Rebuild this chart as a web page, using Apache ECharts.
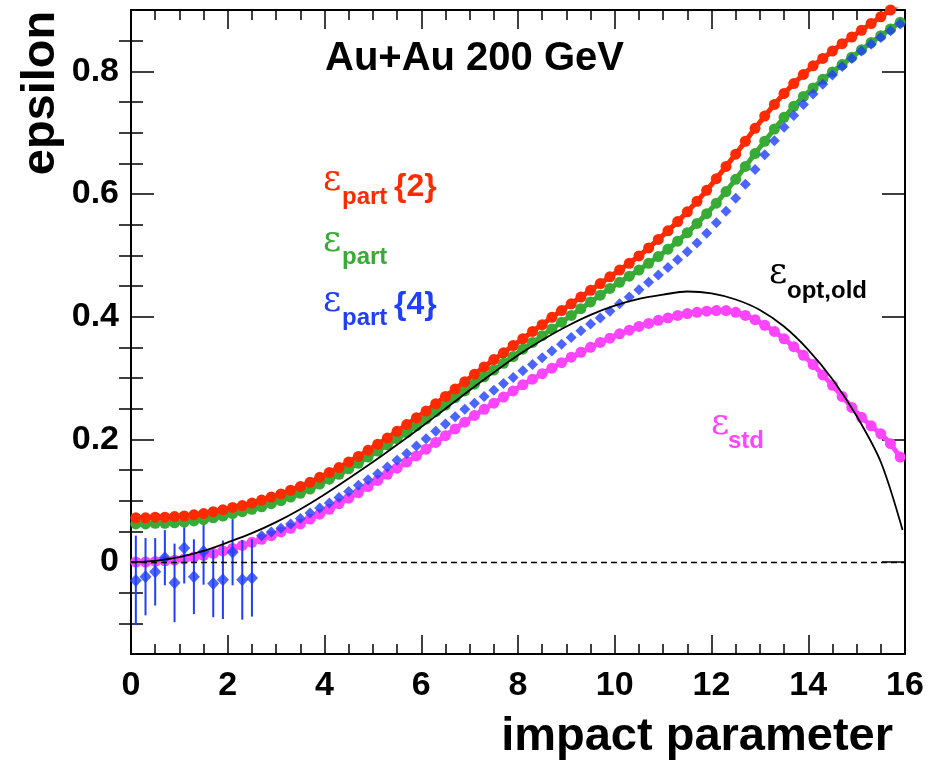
<!DOCTYPE html>
<html><head><meta charset="utf-8">
<script src="https://cdn.jsdelivr.net/npm/echarts@6/dist/echarts.min.js"></script>
<style>html,body{margin:0;padding:0;background:#fff}#c{width:928px;height:764px}</style>
</head><body><div id="c"></div>
<script>
// impact parameter bin centres
const impactB = [0.1,0.3,0.5,0.7,0.9,1.1,1.3,1.5,1.7,1.9,2.1,2.3,2.5,2.7,2.9,3.1,3.3,3.5,3.7,3.9,
  4.1,4.3,4.5,4.7,4.9,5.1,5.3,5.5,5.7,5.9,6.1,6.3,6.5,6.7,6.9,7.1,7.3,7.5,7.7,7.9,
  8.1,8.3,8.5,8.7,8.9,9.1,9.3,9.5,9.7,9.9,10.1,10.3,10.5,10.7,10.9,11.1,11.3,11.5,11.7,11.9,
  12.1,12.3,12.5,12.7,12.9,13.1,13.3,13.5,13.7,13.9,14.1,14.3,14.5,14.7,14.9,15.1,15.3,15.5,15.7,15.9];

// eps_part{2} (red)
const epsPart2 = [0.072,0.072,0.073,0.073,0.074,0.075,0.077,0.079,0.082,0.085,
  0.089,0.092,0.096,0.101,0.106,0.111,0.117,0.123,0.130,0.138,
  0.146,0.154,0.163,0.172,0.182,0.192,0.202,0.213,0.224,0.235,
  0.246,0.258,0.270,0.282,0.294,0.306,0.318,0.330,0.341,0.353,
  0.364,0.376,0.387,0.399,0.410,0.421,0.432,0.443,0.454,0.465,
  0.476,0.487,0.499,0.512,0.526,0.540,0.555,0.571,0.588,0.606,
  0.625,0.645,0.665,0.686,0.707,0.727,0.746,0.764,0.780,0.795,
  0.809,0.821,0.833,0.845,0.856,0.867,0.878,0.889,0.900,0.911];

// eps_part (green)
const epsPart = [0.062,0.062,0.063,0.063,0.064,0.065,0.067,0.069,0.072,0.075,
  0.079,0.082,0.086,0.090,0.095,0.100,0.106,0.112,0.119,0.127,
  0.135,0.143,0.152,0.161,0.171,0.181,0.191,0.201,0.211,0.222,
  0.233,0.245,0.256,0.268,0.279,0.290,0.302,0.313,0.324,0.335,
  0.347,0.358,0.369,0.380,0.391,0.402,0.413,0.424,0.435,0.446,
  0.456,0.466,0.476,0.487,0.498,0.510,0.523,0.537,0.552,0.568,
  0.585,0.604,0.624,0.645,0.666,0.686,0.706,0.725,0.743,0.759,
  0.773,0.787,0.799,0.811,0.823,0.835,0.847,0.858,0.869,0.880];

// eps_part{4} (blue)
const epsPart4 = [-0.030,-0.024,-0.016,0.007,-0.034,0.023,-0.024,0.017,-0.035,-0.029,
  0.016,-0.029,-0.026,0.043,0.049,0.055,0.062,0.071,0.080,0.088,
  0.096,0.105,0.115,0.125,0.134,0.144,0.155,0.166,0.177,0.189,
  0.201,0.213,0.225,0.237,0.249,0.259,0.270,0.280,0.291,0.301,
  0.312,0.322,0.333,0.344,0.355,0.366,0.377,0.388,0.398,0.409,
  0.421,0.432,0.444,0.456,0.468,0.480,0.493,0.506,0.520,0.536,
  0.553,0.572,0.593,0.616,0.640,0.664,0.687,0.709,0.728,0.746,
  0.763,0.779,0.794,0.808,0.821,0.833,0.844,0.855,0.866,0.877];
// errors of the first eps_part{4} points
const epsPart4Err = [0.073,0.063,0.055,0.045,0.064,0.058,0.061,0.054,0.055,0.064,0.054,0.065,0.063];

// eps_std (magenta)
const epsStd = [0.000,0.000,0.001,0.002,0.003,0.005,0.008,0.011,0.014,0.018,
  0.022,0.027,0.032,0.037,0.043,0.049,0.055,0.062,0.070,0.078,
  0.086,0.095,0.104,0.113,0.123,0.133,0.143,0.153,0.163,0.173,
  0.184,0.195,0.206,0.217,0.228,0.239,0.249,0.259,0.269,0.279,
  0.289,0.298,0.307,0.316,0.325,0.334,0.342,0.350,0.358,0.365,
  0.372,0.378,0.384,0.389,0.394,0.398,0.402,0.405,0.407,0.409,
  0.410,0.410,0.407,0.402,0.395,0.386,0.376,0.364,0.351,0.337,
  0.322,0.305,0.288,0.270,0.252,0.236,0.222,0.209,0.193,0.171];

// eps_opt,old (black curve)
const optB = [0,0.5,1,1.5,2,2.5,3,3.5,4,4.5,5,5.5,6,6.5,7,7.5,8,8.5,9,9.5,10,10.5,11,11.5,12,12.5,13,13.5,14,14.5,15,15.5,15.95];
const epsOptOld = [0,0.002,0.008,0.018,0.032,0.047,0.065,0.086,0.110,0.136,0.163,0.191,0.220,0.250,0.280,0.309,0.337,0.362,0.384,0.403,0.418,0.429,0.436,0.441,0.438,0.428,0.411,0.384,0.346,0.298,0.238,0.163,0.052];

const yMajor = [0,0.2,0.4,0.6,0.8];
const yMinor = [-0.1,-0.05,0.05,0.1,0.15,0.25,0.3,0.35,0.45,0.5,0.55,0.65,0.7,0.75,0.85];

const RED='#ff2a00', GREEN='#38aa36', BLUE='#1f3fff', MAG='#ff44ff';
const SANS='"Liberation Sans", Arial, sans-serif';
const SERIF='"DejaVu Serif", "Liberation Serif", serif';

const zip = (xs, ys) => ys.map((v,i)=>[xs[i], v]);
const errData = epsPart4Err.map((e,i)=>[impactB[i], epsPart4[i], e]);

const chart = echarts.init(document.getElementById('c'), null, {renderer:'canvas'});

const baseX = {type:'value', min:0, max:16, interval:2,
  axisLine:{show:true, onZero:false, lineStyle:{color:'#000', width:2}},
  axisTick:{show:true, inside:true, length:19, lineStyle:{color:'#000', width:1.5}},
  minorTick:{show:true, splitNumber:4, length:10, lineStyle:{color:'#000', width:1.5}},
  splitLine:{show:false}, minorSplitLine:{show:false}};
const baseY = {type:'value', min:-0.15, max:0.9,
  axisLine:{show:true, onZero:false, lineStyle:{color:'#000', width:2}},
  splitLine:{show:false}};

const dotLine = (name, data, color, z) => ({name, type:'line', data, showSymbol:true, symbol:'circle', symbolSize:11,
  itemStyle:{color}, lineStyle:{color, width:5}, silent:true, z, clip:true});

const option = {
  animation:false,
  backgroundColor:'#fff',
  grid:{left:131, right:23, top:10, bottom:110, containLabel:false},
  xAxis:[
    Object.assign({}, baseX, {position:'bottom',
      axisLabel:{show:true, margin:15, fontSize:34, fontWeight:'bold', fontFamily:SANS, color:'#000', showMinLabel:true, showMaxLabel:true}}),
    Object.assign({}, baseX, {position:'top', axisLabel:{show:false}})
  ],
  yAxis:[
    Object.assign({}, baseY, {position:'left',
      axisTick:{show:true, inside:true, length:23, customValues:yMajor, lineStyle:{color:'#000', width:1.5}},
      axisLabel:{show:true, margin:12, fontSize:34, fontWeight:'bold', fontFamily:SANS, color:'#000', customValues:yMajor,
        formatter:v => (Math.abs(v)<1e-9 ? '0' : v.toFixed(1))}}),
    Object.assign({}, baseY, {position:'left', axisLine:{show:false},
      axisTick:{show:true, inside:true, length:12, customValues:yMinor, lineStyle:{color:'#000', width:1.5}},
      axisLabel:{show:false}}),
    Object.assign({}, baseY, {position:'right',
      axisTick:{show:true, inside:true, length:23, customValues:yMajor, lineStyle:{color:'#000', width:1.5}},
      axisLabel:{show:false}}),
    Object.assign({}, baseY, {position:'right', axisLine:{show:false},
      axisTick:{show:true, inside:true, length:12, customValues:yMinor, lineStyle:{color:'#000', width:1.5}},
      axisLabel:{show:false}})
  ],
  series:[
    Object.assign(dotLine('eps_std', zip(impactB, epsStd), MAG, 2), {
      markLine:{silent:true, symbol:'none', label:{show:false}, animation:false,
        lineStyle:{color:'#000', type:[6,4], width:1.3}, data:[{yAxis:0}]}}),
    {name:'eps_part{4}', type:'scatter', data:zip(impactB, epsPart4), symbol:'diamond',
      symbolSize:(v, p) => (p.dataIndex < epsPart4Err.length ? [12,13] : [11,11]),
      itemStyle:{color:BLUE}, silent:true, z:4},
    dotLine('eps_part', zip(impactB, epsPart), GREEN, 3),
    dotLine('eps_part{2}', zip(impactB, epsPart2), RED, 3),
    {name:'eps_opt,old', type:'line', data:zip(optB, epsOptOld), smooth:0.3, showSymbol:false, symbol:'none',
      lineStyle:{color:'#000', width:1.8}, silent:true, z:5},
    {name:'err', type:'custom', data:errData, encode:{x:0, y:1}, silent:true, z:3, clip:true,
      renderItem:function(params, api){
        const x=api.value(0), y=api.value(1), e=api.value(2);
        const p1=api.coord([x, y-e]), p2=api.coord([x, y+e]);
        return {type:'line', shape:{x1:p1[0], y1:p1[1], x2:p2[0], y2:p2[1]}, style:{stroke:BLUE, lineWidth:2}};
      }}
  ],
  graphic:[
    {type:'text', x:325, y:59, style:{text:'Au+Au 200 GeV', font:'bold 40px '+SANS, fill:'#000', align:'left', verticalAlign:'middle'}},
    {type:'text', x:41, y:93, rotation:Math.PI/2, style:{text:'epsilon', font:'bold 47px '+SANS, fill:'#000', align:'center', verticalAlign:'middle'}},
    {type:'text', x:893, y:737, style:{text:'impact parameter', font:'bold 47px '+SANS, fill:'#000', align:'right', verticalAlign:'middle'}},

    {type:'text', x:323, y:181, style:{text:'ε', font:'35px '+SERIF, fill:RED, align:'left', verticalAlign:'middle'}},
    {type:'text', x:342, y:197, style:{text:'part', font:'bold 24px '+SANS, fill:RED, align:'left', verticalAlign:'middle'}},
    {type:'text', x:394, y:187, style:{text:'{2}', font:'bold 32px '+SANS, fill:RED, align:'left', verticalAlign:'middle'}},

    {type:'text', x:323, y:242, style:{text:'ε', font:'35px '+SERIF, fill:GREEN, align:'left', verticalAlign:'middle'}},
    {type:'text', x:342, y:257, style:{text:'part', font:'bold 24px '+SANS, fill:GREEN, align:'left', verticalAlign:'middle'}},

    {type:'text', x:323, y:302, style:{text:'ε', font:'35px '+SERIF, fill:BLUE, align:'left', verticalAlign:'middle'}},
    {type:'text', x:342, y:318, style:{text:'part', font:'bold 24px '+SANS, fill:BLUE, align:'left', verticalAlign:'middle'}},
    {type:'text', x:394, y:305, style:{text:'{4}', font:'bold 32px '+SANS, fill:BLUE, align:'left', verticalAlign:'middle'}},

    {type:'text', x:769, y:274, style:{text:'ε', font:'35px '+SERIF, fill:'#000', align:'left', verticalAlign:'middle'}},
    {type:'text', x:787, y:291, style:{text:'opt,old', font:'bold 24px '+SANS, fill:'#000', align:'left', verticalAlign:'middle'}},

    {type:'text', x:711, y:425, style:{text:'ε', font:'35px '+SERIF, fill:MAG, align:'left', verticalAlign:'middle'}},
    {type:'text', x:728, y:441, style:{text:'std', font:'bold 24px '+SANS, fill:MAG, align:'left', verticalAlign:'middle'}}
  ]
};
chart.setOption(option);
</script></body></html>
